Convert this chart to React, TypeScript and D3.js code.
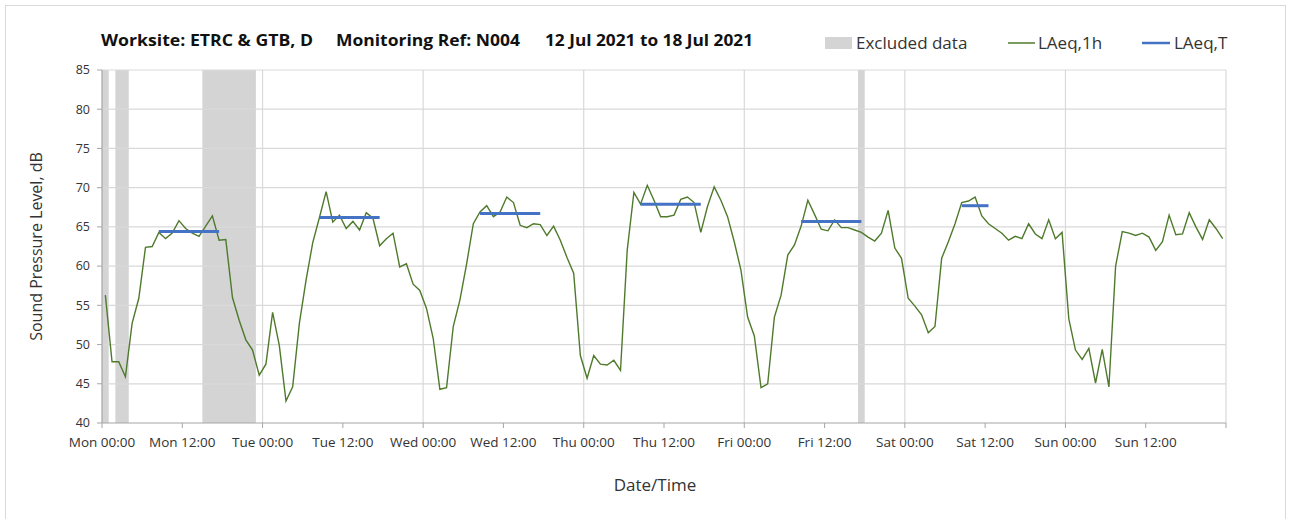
import { scaleLinear, line, range } from "d3";

const width = 1295;
const height = 519;
const margin = { top: 70, right: 69, bottom: 96, left: 102 };

const innerWidth = width - margin.left - margin.right;
const innerHeight = height - margin.top - margin.bottom;

// hourly LAeq,1h values, Mon 00:00 .. Sun 23:00
const laeq1h = [
  56.3, 47.8, 47.8, 45.9, 52.7, 55.9, 62.4, 62.5, 64.3, 63.5, 64.2, 65.8,
  64.8, 64.2, 63.8, 65.1, 66.4, 63.3, 63.4, 56.0, 53.1, 50.6, 49.3, 46.1,
  47.5, 54.1, 49.9, 42.8, 44.6, 52.7, 58.2, 63.0, 66.2, 69.5, 65.6, 66.5,
  64.8, 65.7, 64.6, 66.8, 66.1, 62.6, 63.5, 64.2, 59.9, 60.3, 57.7, 56.9,
  54.6, 50.8, 44.3, 44.5, 52.3, 55.7, 60.3, 65.4, 66.9, 67.7, 66.3, 66.9,
  68.8, 68.1, 65.2, 64.9, 65.4, 65.3, 63.9, 65.1, 63.3, 61.1, 59.1, 48.6,
  45.7, 48.6, 47.5, 47.4, 48.0, 46.7, 62.0, 69.4, 67.9, 70.3, 68.4, 66.3,
  66.3, 66.5, 68.5, 68.8, 68.1, 64.3, 67.6, 70.1, 68.4, 66.3, 63.1, 59.5,
  53.5, 51.1, 44.5, 45.0, 53.5, 56.3, 61.4, 62.7, 65.1, 68.4, 66.6, 64.7,
  64.5, 65.9, 64.9, 64.9, 64.6, 64.3, 63.7, 63.2, 64.2, 67.1, 62.3, 61.0,
  55.9, 54.9, 53.8, 51.5, 52.3, 61.0, 63.1, 65.4, 68.1, 68.3, 68.8, 66.4,
  65.4, 64.8, 64.2, 63.3, 63.8, 63.5, 65.4, 64.1, 63.5, 65.9, 63.5, 64.3,
  53.3, 49.3, 48.1, 49.5, 45.1, 49.4, 44.6, 60.0, 64.4, 64.2, 63.9, 64.2,
  63.7, 62.0, 63.1, 66.5, 64.0, 64.1, 66.8, 65.0, 63.4, 65.9, 64.8, 63.5,
];

// LAeq,T periods (hour index of first and last hour)
const periodStart = [8, 32, 56, 80, 104, 128];
const periodEnd = [17, 41, 65, 89, 113, 132];
const laeqT = [64.4, 66.2, 66.7, 67.9, 65.7, 67.7];

// excluded data intervals, hours from Mon 00:00
const exclStart = [0, 2, 15, 113];
const exclEnd = [1, 4, 23, 114];

const days = ["Mon", "Tue", "Wed", "Thu", "Fri", "Sat", "Sun"];
const yTicks = [40, 45, 50, 55, 60, 65, 70, 75, 80, 85];

const font = "'Open Sans', sans-serif";
const green = "#4f7a2c";
const blue = "#4472c4";
const grey = "#d4d4d4";

function App() {
  const x = scaleLinear().domain([0, 168]).range([0, innerWidth]);
  const y = scaleLinear().domain([40, 85]).range([innerHeight, 0]);

  const path = line<number>()
    .x((d, i) => x(i + 0.5))
    .y((d) => y(d));

  const xTicks = range(0, 169, 12);

  return (
    <svg
      width={width}
      height={height}
      style={{ position: "absolute", left: 0, top: 0, background: "#fff" }}
    >
      <rect x={5.5} y={5.5} width={1280} height={520} fill="#fff" stroke="#d9d9d9" />

      <g fontFamily={font} fontWeight="bold" fontSize={16} fill="#111">
        <text x={101} y={46} textLength={212} lengthAdjust="spacingAndGlyphs">
          Worksite: ETRC &amp; GTB, D
        </text>
        <text x={336} y={46} textLength={184} lengthAdjust="spacingAndGlyphs">
          Monitoring Ref: N004
        </text>
        <text x={545} y={46} textLength={208} lengthAdjust="spacingAndGlyphs">
          12 Jul 2021 to 18 Jul 2021
        </text>
      </g>

      <g fontFamily={font} fontSize={17} fill="#333">
        <rect x={825} y={37} width={27} height={12} fill={grey} />
        <text x={856} y={49}>Excluded data</text>
        <line x1={1008} x2={1035} y1={43} y2={43} stroke={green} strokeWidth={1.5} />
        <text x={1038} y={49}>LAeq,1h</text>
        <line x1={1142} x2={1170} y1={43} y2={43} stroke={blue} strokeWidth={2.5} />
        <text x={1174} y={49}>LAeq,T</text>
      </g>

      <g transform={`translate(${margin.left},${margin.top})`}>
        {exclStart.map((s, i) => (
          <rect
            key={"ex" + i}
            x={x(s)}
            y={0}
            width={x(exclEnd[i]) - x(s)}
            height={innerHeight}
            fill={grey}
          />
        ))}

        {yTicks.slice(1).map((t) => (
          <line key={"gy" + t} x1={0} x2={innerWidth} y1={y(t)} y2={y(t)} stroke="#d9d9d9" strokeWidth={1.2} />
        ))}
        {range(24, 169, 24).map((h) => (
          <line key={"gx" + h} x1={x(h)} x2={x(h)} y1={0} y2={innerHeight} stroke="#d9d9d9" strokeWidth={1.2} />
        ))}

        <path d={path(laeq1h) || ""} fill="none" stroke={green} strokeWidth={1.4} />

        {laeqT.map((v, i) => (
          <line
            key={"t" + i}
            x1={x(periodStart[i] + 0.5)}
            x2={x(periodEnd[i] + 0.5)}
            y1={y(v)}
            y2={y(v)}
            stroke={blue}
            strokeWidth={3}
          />
        ))}

        {/* axes */}
        <line x1={0} x2={0} y1={0} y2={innerHeight} stroke="#a6a6a6" strokeWidth={1.2} />
        <line x1={0} x2={innerWidth} y1={innerHeight} y2={innerHeight} stroke="#a6a6a6" strokeWidth={1.2} />
        {yTicks.map((t) => (
          <g key={"yt" + t}>
            <line x1={-5} x2={0} y1={y(t)} y2={y(t)} stroke="#a6a6a6" />
            <text
              x={-12}
              y={y(t)}
              dy="0.35em"
              textAnchor="end"
              fontFamily={font}
              fontSize={12.5}
              fill="#333"
            >
              {t}
            </text>
          </g>
        ))}
        {xTicks.map((h) => (
          <g key={"xt" + h}>
            <line x1={x(h)} x2={x(h)} y1={innerHeight} y2={innerHeight + 5} stroke="#a6a6a6" />
            {h < 168 && (
              <text
                x={x(h)}
                y={innerHeight + 24}
                textAnchor="middle"
                fontFamily={font}
                fontSize={13.5}
                fill="#333"
              >
                {`${days[Math.floor(h / 24)]} ${h % 24 === 0 ? "00" : "12"}:00`}
              </text>
            )}
          </g>
        ))}
      </g>

      <text
        x={655}
        y={491}
        textAnchor="middle"
        fontFamily={font}
        fontSize={17}
        fill="#333"
      >
        Date/Time
      </text>
      <text
        transform={`translate(42,${margin.top + innerHeight / 2}) rotate(-90)`}
        textAnchor="middle"
        fontFamily={font}
        fontSize={16}
        fill="#333"
      >
        Sound Pressure Level, dB
      </text>
    </svg>
  );
}

export default App;
